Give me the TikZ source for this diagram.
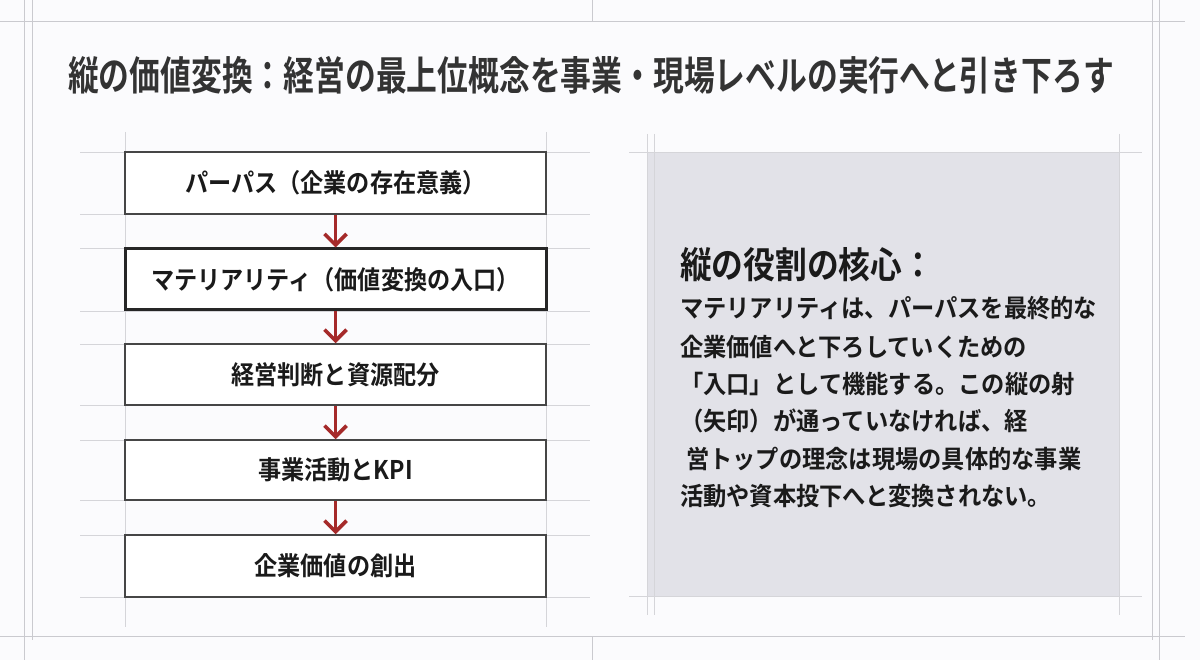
\documentclass[tikz,border=0pt]{standalone}
\usepackage{fontspec}
\setmainfont{Noto Sans CJK JP}
\newfontfamily\jpt{Noto Sans CJK JP Bold}[FakeStretch=0.77]
\newfontfamily\jph{Noto Sans CJK JP Bold}[FakeStretch=0.87]
\newfontfamily\jpbox{Noto Sans CJK JP Bold}[FakeStretch=0.9]
\newfontfamily\jpbody{Noto Sans CJK JP Bold}[FakeStretch=0.93]
\usetikzlibrary{arrows.meta}
\definecolor{bgc}{HTML}{FBFBFD}
\definecolor{gridc}{HTML}{CACACF}
\definecolor{panelc}{HTML}{E2E2E8}
\definecolor{boxline}{HTML}{464646}
\definecolor{arrc}{HTML}{A52A2A}
\definecolor{titlec}{HTML}{333333}
\definecolor{txtc}{HTML}{1A1A1A}
\tikzset{
  frameline/.style={draw=gridc, line width=1pt},
  guide/.style={draw=gridc!80, line width=0.8pt},
  stepbox/.style={draw=boxline, line width=1.5pt, fill=white, minimum width=421pt, minimum height=62pt, inner sep=0pt, font=\jpbox\fontsize{25.7}{28}\selectfont, text=txtc},
  keybox/.style={stepbox, draw=black!85, line width=3pt},
  arr/.style={draw=arrc, line width=3.6pt, -{Straight Barb[length=11pt,width=22pt]}},
  bodyline/.style={anchor=west, inner sep=0pt, font=\jpbody\fontsize{25}{28}\selectfont, text=txtc},
}
\begin{document}
\begin{tikzpicture}[x=1pt,y=-1pt]
\useasboundingbox (0,0) rectangle (1200,660);
\fill[bgc] (0,0) rectangle (1200,660);
% outer frame
\draw[frameline] (0,22) -- (1185,22);
\draw[frameline] (0,636) -- (1185,636);
\draw[frameline] (24,0) -- (24,660);
\draw[frameline] (32,0) -- (32,640);
\draw[frameline] (1152,0) -- (1152,640);
\draw[frameline] (1159,0) -- (1159,660);
\draw[frameline] (592,0) -- (592,22);
\draw[frameline] (592,636) -- (592,660);
% title
\node[inner sep=0pt, text=titlec, font=\jpt\fontsize{40}{44}\selectfont] (title) at (591,75) {縦の価値変換：経営の最上位概念を事業・現場レベルの実行へと引き下ろす};
% left guides
\foreach \yy in {152,214,248,311,344,405,440,500,535,597}
  \draw[guide] (80,\yy) -- (590,\yy);
\draw[guide] (125,132) -- (125,627);
\draw[guide] (546,132) -- (546,627);
% boxes
\node[stepbox] (b1) at (335.5,183) {パーパス（企業の存在意義）};
\node[keybox, minimum height=61pt] (b2) at (335.5,279.5) {マテリアリティ（価値変換の入口）};
\node[stepbox, minimum height=61pt] (b3) at (335.5,374.5) {経営判断と資源配分};
\node[stepbox, minimum height=60pt] (b4) at (335.5,470) {事業活動とKPI};
\node[stepbox] (b5) at (335.5,566) {企業価値の創出};
\draw[arr] (b1.south) -- (b2.north);
\draw[arr] (b2.south) -- (b3.north);
\draw[arr] (b3.south) -- (b4.north);
\draw[arr] (b4.south) -- (b5.north);
% right panel guides
\draw[guide] (629,152) -- (1142,152);
\draw[guide] (629,596) -- (1142,596);
\draw[guide] (647,134) -- (647,615);
\draw[guide] (654,134) -- (654,615);
\draw[guide] (1119,134) -- (1119,615);
\node[fill=panelc, minimum width=472pt, minimum height=444pt, inner sep=0pt, anchor=north west] (panel) at (647,152) {};
\draw[guide] (647,152) -- (647,596);
\draw[guide] (654,152) -- (654,596);
\draw[guide] (1119,152) -- (1119,596);
\draw[guide] (647,152) -- (1119,152);
\draw[guide] (647,596) -- (1119,596);
% panel text
\node[anchor=west, inner sep=0pt, font=\jph\fontsize{36.5}{40}\selectfont, text=txtc] (head) at (680,265) {縦の役割の核心：};
\node[bodyline] (l1) at (680,308) {マテリアリティは、パーパスを最終的な};
\node[bodyline] (l2) at (680,347) {企業価値へと下ろしていくための};
\node[bodyline] (l3) at (680,384) {「入口」として機能する。この縦の射};
\node[bodyline] (l4) at (680,421) {（矢印）が通っていなければ、経};
\node[bodyline] (l5) at (686,459) {営トップの理念は現場の具体的な事業};
\node[bodyline] (l6) at (680,496) {活動や資本投下へと変換されない。};
\end{tikzpicture}
\end{document}
